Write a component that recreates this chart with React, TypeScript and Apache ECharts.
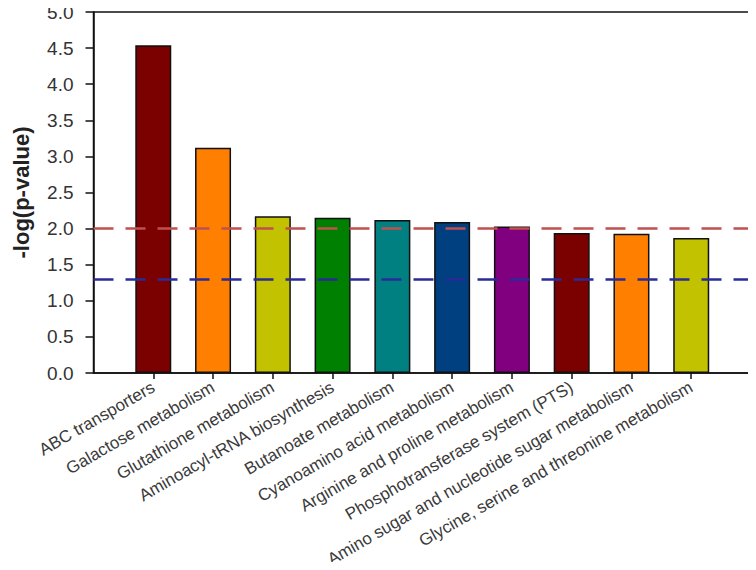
import React, { useEffect, useRef } from "react";
import * as echarts from "echarts";

const categories = [
  "ABC transporters",
  "Galactose metabolism",
  "Glutathione metabolism",
  "Aminoacyl-tRNA biosynthesis",
  "Butanoate metabolism",
  "Cyanoamino acid metabolism",
  "Arginine and proline metabolism",
  "Phosphotransferase system (PTS)",
  "Amino sugar and nucleotide sugar metabolism",
  "Glycine, serine and threonine metabolism",
];
const values = [4.54, 3.12, 2.17, 2.15, 2.12, 2.09, 2.03, 1.94, 1.93, 1.87];
const barColors = [
  "#7b0000", "#ff8000", "#c2c200", "#008000", "#008080",
  "#003f80", "#800080", "#7b0000", "#ff8000", "#c2c200",
];
const thresholds = [2.0, 1.3];
const thresholdColors = ["#c0504d", "#2a2a9a"];
const yTicks = { min: 0, max: 5, interval: 0.5 };

export default function App() {
  const ref = useRef<HTMLDivElement>(null);
  useEffect(() => {
    if (!ref.current) return;
    const chart = echarts.init(ref.current, undefined, { renderer: "svg" });
    const cats = ["", ...categories, ""];
    const data: any[] = ["-", ...values.map((v, i) => ({ value: v, itemStyle: { color: barColors[i] } })), "-"];
    chart.setOption({
      animation: false,
      backgroundColor: "#ffffff",
      grid: {
        left: 93.5,
        right: 5,
        top: 12,
        bottom: 197,
        containLabel: false,
        outerBoundsMode: "none",
        show: true,
        borderColor: "#111",
        borderWidth: 1.5,
        backgroundColor: "transparent",
      },
      xAxis: {
        type: "category",
        data: cats,
        boundaryGap: false,
        axisLine: { show: true, lineStyle: { color: "#111", width: 1.5 } },
        axisTick: {
          show: true,
          inside: false,
          length: 6,
          lineStyle: { color: "#111", width: 1.5 },
          interval: (index: number) => index > 0 && index < cats.length - 1,
        },
        axisLabel: {
          interval: 0,
          rotate: 30,
          margin: 13,
          fontSize: 17,
          color: "#3a3a3a",
          fontFamily: "Liberation Sans, Arial, sans-serif",
        },
        splitLine: { show: false },
      },
      yAxis: {
        type: "value",
        min: yTicks.min,
        max: yTicks.max,
        interval: yTicks.interval,
        name: "-log(p-value)",
        nameLocation: "middle",
        nameGap: 61,
        nameRotate: 90,
        nameTextStyle: {
          fontSize: 22,
          fontWeight: "bold",
          color: "#222",
          fontFamily: "Liberation Sans, Arial, sans-serif",
        },
        axisLine: { show: true, lineStyle: { color: "#111", width: 1.5 } },
        axisTick: { show: true, inside: false, length: 8, lineStyle: { color: "#111", width: 1.5 } },
        axisLabel: {
          fontSize: 19,
          color: "#333",
          margin: 20,
          fontFamily: "Liberation Sans, Arial, sans-serif",
          formatter: (v: number) => v.toFixed(1),
        },
        splitLine: { show: false },
      },
      series: [
        {
          type: "bar",
          data,
          barWidth: 36,
          itemStyle: { borderColor: "#111", borderWidth: 1.5 },
          markLine: {
            silent: true,
            symbol: "none",
            label: { show: false },
            data: thresholds.map((t, i) => ({
              yAxis: t,
              lineStyle: { color: thresholdColors[i], type: [20, 12], width: 2.5 },
            })),
          },
        },
      ],
    });
    return () => chart.dispose();
  }, []);
  return <div ref={ref} style={{ width: 756, height: 570, margin: -8 }} />;
}
